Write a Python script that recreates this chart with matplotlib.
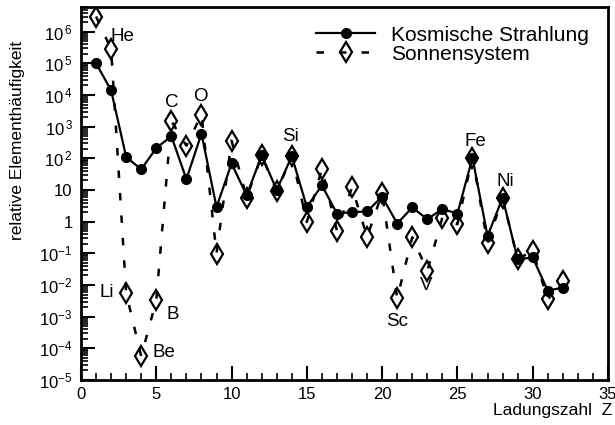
import matplotlib
matplotlib.use("Agg")
import matplotlib.pyplot as plt
import numpy as np
from matplotlib.ticker import FixedLocator, LogLocator, MultipleLocator, NullFormatter

plt.rcParams['font.family'] = ['Liberation Sans', 'DejaVu Sans']
plt.rcParams['mathtext.fontset'] = 'custom'
plt.rcParams['mathtext.rm'] = 'Liberation Sans'
plt.rcParams['mathtext.it'] = 'Liberation Sans:italic'
plt.rcParams['mathtext.bf'] = 'Liberation Sans:bold'

# Data
Z = list(range(1, 33))
cosmic = [1.0e5, 1.4e4, 110, 45, 210, 500, 22, 600, 2.9, 69, 6.8, 123, 10, 117,
          2.9, 14, 1.8, 2.0, 2.1, 6.2, 0.87, 2.8, 1.2, 2.5, 1.8, 105, 0.35, 5.7,
          0.065, 0.074, 0.0066, 0.0083]
solar = [3.0e6, 2.8e5, 0.0055, 5.6e-5, 0.0033, 1500, 250, 2400, 0.098, 360, 5.7, 123,
         9, 117, 0.98, 47, 0.51, 12, 0.33, 7.8, 0.0038, 0.32, 0.028, 1.35, 0.83, 105,
         0.21, 5.7, 0.065, 0.12, 0.0035, 0.013]

elem_names = ['He', 'C', 'O', 'Si', 'Fe', 'Ni', 'Li', 'B', 'Be', 'Sc', 'V']
elem_x = [2.75, 6.03, 7.95, 13.9, 26.2, 28.15, 1.7, 6.11, 5.5, 21.0, 22.9]
elem_y = [6.9e5, 5800, 8900, 490, 340, 18.7, 5.8e-3, 1.2e-3, 7.4e-5, 7.2e-4, 9.3e-3]

ytick_vals = [1e-5, 1e-4, 1e-3, 1e-2, 1e-1, 1, 10, 1e2, 1e3, 1e4, 1e5, 1e6]
ytick_labels = [r'$\mathregular{10^{-5}}$', r'$\mathregular{10^{-4}}$', r'$\mathregular{10^{-3}}$',
                r'$\mathregular{10^{-2}}$', r'$\mathregular{10^{-1}}$', '1', '10',
                r'$\mathregular{10^{\,2}}$', r'$\mathregular{10^{\,3}}$', r'$\mathregular{10^{\,4}}$',
                r'$\mathregular{10^{\,5}}$', r'$\mathregular{10^{\,6}}$']

fig = plt.figure(figsize=(6.15, 4.25), dpi=100)
ax = fig.add_axes([81/615, 1-380/425, (608-81)/615, (380-7)/425])

ax.plot(Z, cosmic, color='black', lw=1.6, marker='o', markersize=7,
        markerfacecolor='black', markeredgecolor='black', label='Kosmische Strahlung', zorder=3)
ax.plot(Z, solar, color='black', lw=1.8, linestyle=(0, (3, 6)), marker='d', markersize=10.5,
        markerfacecolor='none', markeredgecolor='black', markeredgewidth=1.6,
        label='Sonnensystem', zorder=4)

for n, x, y in zip(elem_names, elem_x, elem_y):
    ax.text(x, y, n, fontsize=13.5, ha='center', va='center', zorder=5)

ax.set_yscale('log')
ax.set_xlim(0, 35)
ax.set_ylim(1e-5, 6e6)
ax.xaxis.set_major_locator(MultipleLocator(5))
ax.xaxis.set_minor_locator(MultipleLocator(1))
ax.yaxis.set_major_locator(FixedLocator(ytick_vals))
ax.set_yticklabels(ytick_labels)
ax.yaxis.set_minor_locator(LogLocator(base=10, subs=np.arange(2, 10), numticks=30))
ax.yaxis.set_minor_formatter(NullFormatter())

ax.tick_params(which='major', direction='in', length=10, width=1.5, labelsize=12,
               top=False, right=False)
ax.tick_params(which='minor', direction='in', length=5, width=1.2, top=False, right=False)
ax.tick_params(axis='x', pad=5)
ax.tick_params(axis='y', pad=6)
for s in ax.spines.values():
    s.set_linewidth(2)

fig.text(18/615, 1-140/425, 'relative Elementhäufigkeit', fontsize=12.5,
         rotation=90, ha='center', va='center')
fig.text(612/615, 1-410/425, 'Ladungszahl  Z', fontsize=12.5, ha='right', va='center')

leg = ax.legend(loc='upper right', frameon=False, fontsize=15, handlelength=2.8,
                borderaxespad=0.5, labelspacing=0.0, handletextpad=0.8,
                bbox_to_anchor=(1.0, 1.0))

fig.savefig('out.png', dpi=100)
